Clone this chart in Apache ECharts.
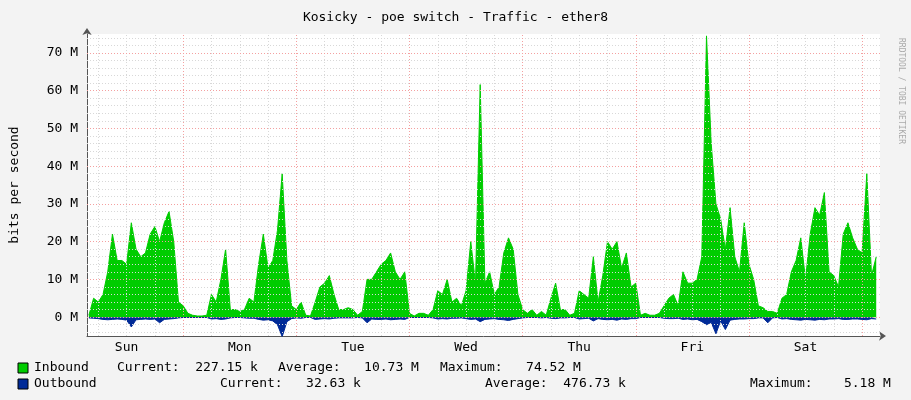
<!DOCTYPE html>
<html><head><meta charset="utf-8">
<script src="https://cdn.jsdelivr.net/npm/echarts@6/dist/echarts.min.js"></script>
<style>html,body{margin:0;padding:0;background:#f3f3f3}#c{width:911px;height:400px}</style>
</head><body><div id="c"></div>
<script>
// hours since Sunday 00:00
const hours = [];
for (let h = 4; h <= 171; h++) hours.push(h);
const dayLabels = ['Sun','Mon','Tue','Wed','Thu','Fri','Sat'];
const dayNoons = [12,36,60,84,108,132,156];
const yTicks = [0,10,20,30,40,50,60,70];
// inbound, Mbit/s, hourly h4..h171
const inbound = [
 0.5,5,4,6,12,22,15,15,14,25,18,16,17,22,24,20,25,28,20,4,3,
 1,0.5,0.3,0.3,0.5,6,4,10,18,2,2,1.5,2,5,4,14,22,13,15,23,38,15,3,2,
 4,0.5,0.3,4,8,9,11,6,2,2,2.5,2,0.5,1.5,10,10,12,14,15,17,12,10,12,1,
 0.3,1,1,0.5,2,7,6,10,4,5,3,7,20,9,61.6,9,12,6,8,17,21,18,6,2,
 1,2,0.5,1.5,0.5,5,9,2,2,0.5,1,7,6,5,16,4,11,20,18,20,13,17,8,9,0.5,
 1,0.5,0.5,1,3,5,6,3,12,9,9,10,16,74.5,46,30,26,18,29,16,12,25,14,10,3,2.5,1.5,1.5,1,
 5,6,12,15,21,10,22,29,27,33,12,11,8,22,25,21,18,17,38,11,16
];
const outbound = [
 0.2,0.3,0.4,0.6,0.7,0.6,0.5,0.6,0.8,2.6,0.7,0.6,0.5,0.6,0.5,1.5,0.6,0.5,0.4,0.2,0.1,
 0.1,0.1,0.1,0.1,0.1,0.5,0.4,0.6,0.5,0.2,0.1,0.1,0.2,0.3,0.3,0.6,0.8,0.7,1.0,2.0,5.18,1.2,0.4,0.2,
 0.3,0.1,0.1,0.6,0.5,0.4,0.5,0.3,0.2,0.2,0.2,0.2,0.1,0.2,1.5,0.5,0.6,0.6,0.5,0.7,0.6,0.5,0.6,0.1,
 0.1,0.1,0.1,0.1,0.2,0.5,0.4,0.5,0.3,0.3,0.2,0.4,0.6,0.5,1.2,0.6,0.5,0.4,0.6,0.7,0.9,0.6,0.4,0.2,
 0.1,0.1,0.1,0.2,0.1,0.3,0.4,0.2,0.2,0.1,0.1,0.5,0.4,0.3,1.0,0.4,0.6,0.7,0.6,0.8,0.5,0.6,0.4,0.4,0.1,
 0.1,0.1,0.1,0.1,0.3,0.4,0.4,0.3,0.6,0.5,0.7,0.6,1.2,2.0,1.4,4.4,1.0,3.3,0.8,0.6,0.5,0.5,0.4,0.4,0.2,0.2,1.5,0.2,0.1,
 0.5,0.4,0.6,0.7,0.8,0.6,0.7,0.8,0.6,0.7,0.5,0.5,0.4,0.6,0.6,0.5,0.5,0.6,0.7,0.4,0.5
];
const MONO = 'DejaVu Sans Mono';
const gridGray = '#d8d8d8', gridRed = '#f4a0a0';

const vMinor=[], vMajor=[], hMinor=[], hMajor=[];
for (let h = 6; h < 172; h += 6) (h % 24 === 0 ? vMajor : vMinor).push(h);
for (let v = -4; v <= 74; v += 2) (v % 10 === 0 ? hMajor : hMinor).push(v);
const ml = (arr, key, color) => arr.map(v => ({[key]: v, lineStyle: {color, type: [1,2], width: 1}}));
const txt = (x, y, text) => ({type: 'text', x, y, style: {text, fontFamily: MONO, fontSize: 13, fill: '#000'}});

const chart = echarts.init(document.getElementById('c'), null, {renderer: 'canvas'});
chart.setOption({
  backgroundColor: '#f3f3f3',
  animation: false,
  title: {text: 'Kosicky - poe switch - Traffic - ether8', left: 'center', top: 6,
    textStyle: {fontFamily: MONO, fontSize: 13, fontWeight: 'normal', color: '#000'}},
  grid: {left: 81, right: 31, top: 34, bottom: 64, show: true, backgroundColor: '#ffffff', borderWidth: 0},
  xAxis: {type: 'value', min: 3.6, max: 171.8,
    axisLine: {onZero: false, lineStyle: {color: '#555'}, symbol: ['none','arrow'], symbolSize: [7,7], symbolOffset: [0,6]},
    axisTick: {show: false}, splitLine: {show: false},
    axisLabel: {customValues: dayNoons, formatter: v => dayLabels[dayNoons.indexOf(v)] || '',
      fontFamily: MONO, fontSize: 13, color: '#000', margin: 5}},
  yAxis: {type: 'value', min: -5, max: 75, name: 'bits per second', nameLocation: 'middle', nameGap: 66,
    nameTextStyle: {fontFamily: MONO, fontSize: 13, color: '#000'},
    axisLine: {show: true, lineStyle: {color: '#555'}, symbol: ['none','arrow'], symbolSize: [7,7], symbolOffset: [0,6]},
    axisTick: {show: false}, splitLine: {show: false},
    axisLabel: {customValues: yTicks, formatter: v => v + ' M', fontFamily: MONO, fontSize: 13, color: '#000', margin: 9}},
  series: [
    {type: 'line', silent: true, data: [], markLine: {silent: true, symbol: 'none', label: {show: false},
      data: [...ml(vMinor,'xAxis',gridGray), ...ml(hMinor,'yAxis',gridGray), ...ml(vMajor,'xAxis',gridRed), ...ml(hMajor,'yAxis',gridRed)]}},
    {name: 'Inbound', type: 'line', showSymbol: false, data: hours.map((h,i) => [h, inbound[i]]),
      lineStyle: {width: 1, color: '#00cc00'}, areaStyle: {color: '#00cc00', opacity: 1}, z: 3},
    {name: 'Outbound', type: 'line', showSymbol: false, data: hours.map((h,i) => [h, -outbound[i]]),
      lineStyle: {width: 1, color: '#002a97'}, areaStyle: {color: '#002a97', opacity: 1}, z: 3}
  ],
  graphic: [
    {type: 'text', left: 897, top: 38, rotation: -Math.PI/2, style: {text: 'RRDTOOL / TOBI OETIKER', fontFamily: MONO, fontSize: 8, fill: '#aaa'}},
    {type: 'rect', shape: {x: 18, y: 363, width: 10, height: 10}, style: {fill: '#00cc00', stroke: '#000', lineWidth: 1}},
    {type: 'rect', shape: {x: 18, y: 379, width: 10, height: 10}, style: {fill: '#002a97', stroke: '#000', lineWidth: 1}},
    txt(34, 361, 'Inbound'), txt(117, 361, 'Current:  227.15 k'), txt(278, 361, 'Average:   10.73 M'), txt(440, 361, 'Maximum:   74.52 M'),
    txt(34, 377, 'Outbound'), txt(220, 377, 'Current:   32.63 k'), txt(485, 377, 'Average:  476.73 k'), txt(750, 377, 'Maximum:    5.18 M')
  ]
});
</script></body></html>
